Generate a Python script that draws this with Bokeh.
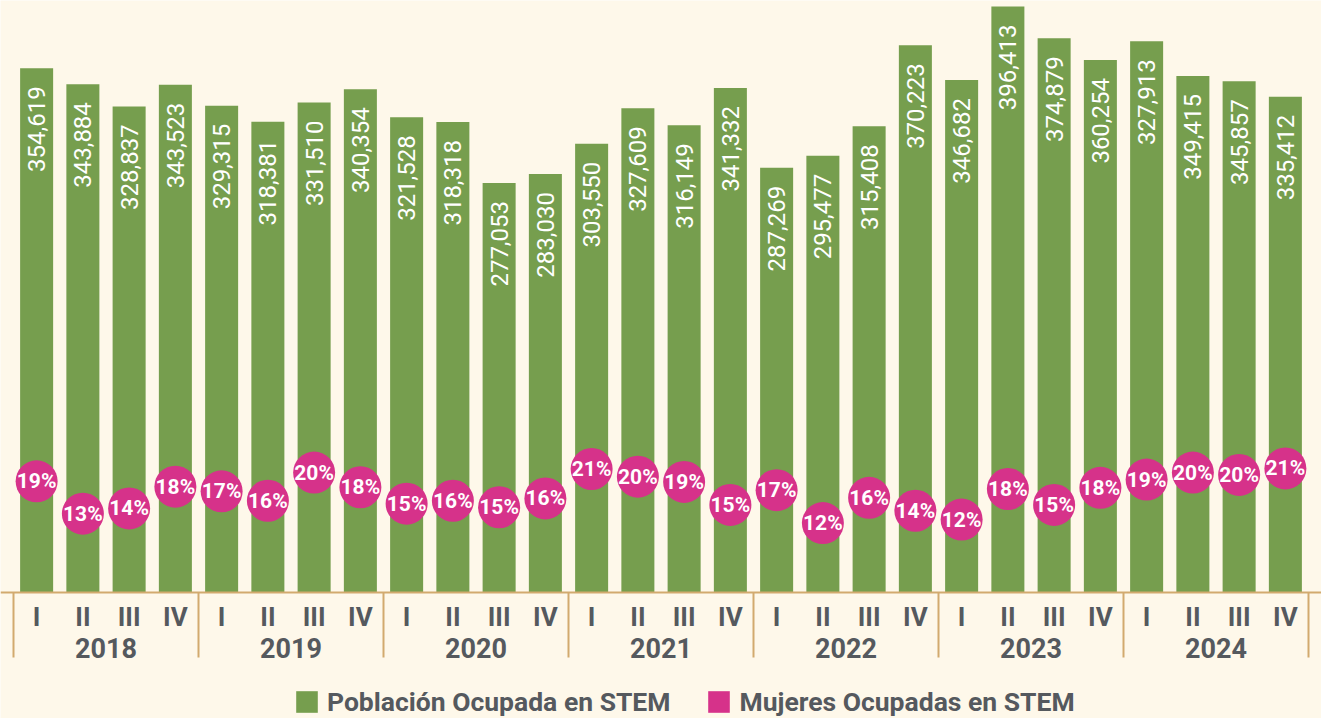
import math
from bokeh.plotting import figure
from bokeh.models import Range1d, ColumnDataSource, Span, Legend, LegendItem
from bokeh.core.properties import value
from bokeh.embed import file_html
from bokeh.resources import INLINE

# ---------------- data ----------------
years = ["2018", "2019", "2020", "2021", "2022", "2023", "2024"]
quarters = ["I", "II", "III", "IV"]

# Población ocupada en STEM (bar heights)
poblacion = [
    354619, 343884, 328837, 343523,
    329315, 318381, 331510, 340354,
    321528, 318318, 277053, 283030,
    303550, 327609, 316149, 341332,
    287269, 295477, 315408, 370223,
    346682, 396413, 374879, 360254,
    372913, 349415, 345857, 335412,
]
# labels as printed on the bars
etiquetas_poblacion = [
    "354,619", "343,884", "328,837", "343,523",
    "329,315", "318,381", "331,510", "340,354",
    "321,528", "318,318", "277,053", "283,030",
    "303,550", "327,609", "316,149", "341,332",
    "287,269", "295,477", "315,408", "370,223",
    "346,682", "396,413", "374,879", "360,254",
    "327,913", "349,415", "345,857", "335,412",
]
# Mujeres ocupadas en STEM (share, %)
mujeres_pct = [
    18.9, 13.4, 14.3, 18.0,
    17.2, 15.6, 20.4, 17.9,
    15.1, 15.6, 14.5, 16.0,
    21.0, 19.7, 18.8, 14.9,
    17.4, 11.8, 16.1, 13.9,
    12.4, 17.6, 14.9, 17.8,
    19.2, 20.4, 20.0, 21.1,
]
etiquetas_mujeres = [
    "19%", "13%", "14%", "18%",
    "17%", "16%", "20%", "18%",
    "15%", "16%", "15%", "16%",
    "21%", "20%", "19%", "15%",
    "17%", "12%", "16%", "14%",
    "12%", "18%", "15%", "18%",
    "19%", "20%", "20%", "21%",
]

# ---------------- style ----------------
BG = "#fef8ea"
GREEN = "#769e4e"
PINK = "#d6328a"
GRAY = "#55595e"
TAN = "#d2aa6e"
FONT = "Roboto"

W, H = 1321, 718
BASE_PX = 592            # pixel row of the baseline
Y_TOP = 400470
UNITS_PER_PX = Y_TOP / BASE_PX
Y_BOTTOM = -(H - BASE_PX) * UNITS_PER_PX
PCT_PER_PX = 1 / 5.88
PCT_TOP = BASE_PX * PCT_PER_PX
PCT_BOTTOM = -(H - BASE_PX) * PCT_PER_PX

n = len(poblacion)
idx = list(range(n))
cat_px = 46.25
edge = 13 / cat_px

p = figure(width=W, height=H, output_backend="svg", toolbar_location=None,
           x_range=Range1d(-0.5 - edge, n - 0.5 + edge),
           y_range=Range1d(Y_BOTTOM, Y_TOP),
           min_border_left=0, min_border_right=0, min_border_top=0, min_border_bottom=0)
p.extra_y_ranges = {"pct": Range1d(PCT_BOTTOM, PCT_TOP)}
p.background_fill_color = BG
p.border_fill_color = BG
p.outline_line_color = None
p.xaxis.visible = False
p.yaxis.visible = False
p.xgrid.visible = False
p.ygrid.visible = False

src = ColumnDataSource(dict(x=idx, pob=poblacion, lab=etiquetas_poblacion,
                            pct=mujeres_pct, plab=etiquetas_mujeres))

bars = p.vbar(x="x", top="pob", width=0.714, source=src, fill_color=GREEN, line_color=None)
p.text(x="x", y="pob", text="lab", source=src, angle=math.pi / 2,
       text_align="right", text_baseline="middle", y_offset=18,
       text_color="white", text_font=value(FONT), text_font_size="24px")

# zero-height pink bars: only used as the legend swatch for the share series
pink_sw = p.vbar(x="x", top=0, bottom=0, width=0.7, source=src,
                 fill_color=PINK, line_color=None)

p.scatter(x="x", y="pct", source=src, y_range_name="pct", size=42,
          fill_color=PINK, line_color=None)
p.text(x="x", y="pct", text="plab", source=src, y_range_name="pct",
       text_align="center", text_baseline="middle", text_color="white",
       text_font=value(FONT), text_font_style="bold", text_font_size="21px")

# axis line
p.add_layout(Span(location=0, dimension="width", line_color=TAN, line_width=2))

# category axis: quarters, years, separators
q_labels = [quarters[i % 4] for i in idx]
p.text(x=idx, y=[0] * n, text=q_labels, y_offset=24, text_align="center",
       text_baseline="middle", text_color=GRAY, text_font=value(FONT),
       text_font_style="bold", text_font_size="26px")
year_x = [4 * k + 1.5 for k in range(len(years))]
p.text(x=year_x, y=[0] * len(years), text=years, y_offset=55, text_align="center",
       text_baseline="middle", text_color=GRAY, text_font=value(FONT),
       text_font_style="bold", text_font_size="27px")
sep_x = [4 * k - 0.5 for k in range(len(years) + 1)]
sep_depth = -65 * UNITS_PER_PX
p.segment(x0=sep_x, x1=sep_x, y0=[0] * len(sep_x), y1=[sep_depth] * len(sep_x),
          line_color=TAN, line_width=2)

legend = Legend(items=[LegendItem(label="Población Ocupada en STEM", renderers=[bars]),
                       LegendItem(label="Mujeres Ocupadas en STEM", renderers=[pink_sw])],
                orientation="horizontal", location=(293, 1),
                label_text_font=FONT, label_text_font_style="bold",
                label_text_font_size="26.5px", label_text_color=GRAY,
                glyph_width=27, glyph_height=27, label_standoff=7, spacing=35,
                padding=0, margin=0, background_fill_alpha=0, border_line_color=None)
p.add_layout(legend, "center")

open("out.html", "w").write(file_html(p, INLINE))
